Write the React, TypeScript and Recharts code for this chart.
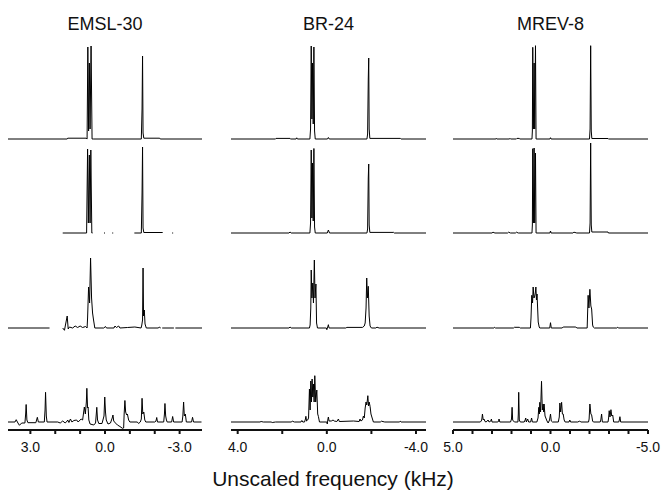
import React from "react";
import { LineChart, Line, XAxis, YAxis } from "recharts";

type Pt = [number, number | null];

const titles = ["EMSL-30", "BR-24", "MREV-8"];
const axisTitle = "Unscaled frequency (kHz)";

// frequency range (kHz) shown in each column, left edge first
const emslDomain: [number, number] = [-3.9, 3.9];
const brDomain: [number, number] = [-4.45, 4.3];
const mrevDomain: [number, number] = [-5, 5];

const emslTicks = [3, 2, 1, 0, -1, -2, -3];
const emslLabels = [3, 0, -3];
const brTicks = [4, 2, 0, -2, -4];
const brLabels = [4, 0, -4];
const mrevTicks = [5, 4, 3, 2, 1, 0, -1, -2, -3, -4, -5];
const mrevLabels = [5, 0, -5];

// spectra: [frequency kHz, intensity]; rows top to bottom
const emsl1: Pt[] = [
  [3.9, 0], [1.52, 0], [1.5, 0.8], [0.76, 0.8], [0.72, 0], [0.69, 92], [0.66, 8], [0.63, 76],
  [0.6, 10], [0.56, 93], [0.52, 0], [0.45, 0], [-1.46, 0], [-1.49, 30], [-1.51, 83], [-1.53, 6],
  [-1.56, 0.8], [-2.2, 0.8], [-2.22, 0], [-3.9, 0],
];
const emsl2: Pt[] = [
  [1.7, 0], [0.74, 0], [0.7, 84], [0.67, 10], [0.63, 78], [0.6, 10], [0.57, 83], [0.53, 0], [0.5, 0],
  [0.2, null], [0.04, 0], [0.0, 0], [-0.15, null], [-0.29, 0], [-0.33, 0], [-0.8, null],
  [-1.18, 0], [-1.46, 0], [-1.49, 40], [-1.51, 86], [-1.53, 5], [-1.56, 0.5], [-2.32, 0.5],
  [-2.5, null], [-2.7, 0], [-2.74, 0],
];
const emsl3: Pt[] = [
  [3.9, 0], [2.23, 0], [2.0, null], [1.7, 0], [1.63, -2.3], [1.59, 3], [1.52, 12], [1.48, -1],
  [1.43, 1], [1.3, 0], [1.2, 2], [1.1, 0.5], [1.0, 2], [0.9, 0.5], [0.78, 1.5], [0.72, 0],
  [0.7, 10], [0.66, 41], [0.62, 25], [0.58, 70], [0.54, 30], [0.5, 15], [0.46, 8], [0.41, 0],
  [0.05, 0], [-0.02, 1.5], [-0.06, 0], [-0.36, 0], [-0.4, 2], [-0.46, 0.5], [-0.55, 2], [-0.6, 0],
  [-0.9, 0.5], [-1.2, 1], [-1.45, 0], [-1.48, 3], [-1.51, 8], [-1.53, 60], [-1.55, 12], [-1.58, 18],
  [-1.61, 4], [-1.66, 0], [-2.15, 0], [-2.18, 1], [-2.24, 0], [-2.27, null], [-2.3, 0], [-2.77, 0],
  [-2.8, null], [-2.83, 0], [-3.9, 0],
];
const emsl4: Pt[] = [
  [3.9, 0], [3.62, 0], [3.57, 2.3], [3.5, -1], [3.44, -3.3], [3.35, -1], [3.22, -1], [3.19, 8],
  [3.17, 17.5], [3.14, 2], [3.1, -0.7], [2.78, -0.7], [2.72, 4.7], [2.68, 0], [2.44, 0], [2.41, 12],
  [2.39, 29.7], [2.36, 6], [2.33, 0], [1.9, 0], [1.8, -1], [1.7, 1], [1.6, -1], [1.52, 1], [1.5, 2],
  [1.45, -0.5], [1.39, 3], [1.33, 0], [1.25, 1.5], [1.14, 2], [1.08, 0], [0.96, 3], [0.9, 2],
  [0.83, 15], [0.79, 8], [0.75, 20], [0.73, 33.7], [0.7, 14], [0.68, 15], [0.65, 2], [0.6, -2],
  [0.45, -3], [0.38, -1], [0.35, 8], [0.33, 14.7], [0.3, 2], [0.25, -1.5], [0.12, -1.5], [0.04, 6],
  [0.01, 25], [-0.02, 10], [-0.05, 2], [-0.12, -2], [-0.22, -1], [-0.29, 4], [-0.32, 7], [-0.35, 1],
  [-0.42, -1], [-0.5, -3], [-0.6, -4.5], [-0.7, -6.3], [-0.75, -6], [-0.77, 8], [-0.8, 21.5],
  [-0.83, 10], [-0.87, 7], [-0.9, 8], [-0.95, 2], [-1.0, 0], [-1.3, 0], [-1.35, -1.5], [-1.42, 0],
  [-1.46, 3], [-1.49, 23.7], [-1.52, 8], [-1.56, 10], [-1.6, 2], [-1.64, 0], [-2.0, 0], [-2.05, 1],
  [-2.08, 4.5], [-2.11, 0], [-2.36, 0], [-2.39, 8], [-2.41, 18.5], [-2.44, 6], [-2.47, 2], [-2.5, 0],
  [-2.68, 0], [-2.72, 5.5], [-2.76, 0], [-3.1, 0], [-3.13, 6], [-3.16, 20], [-3.19, 6], [-3.23, 8],
  [-3.27, 0], [-3.48, 0], [-3.52, 4.7], [-3.56, 0], [-3.88, 0],
];

const br1: Pt[] = [
  [4.3, 0], [2.3, 0], [2.28, 0.6], [1.65, 0.6], [1.62, 0], [1.38, 0], [1.35, 1.2], [1.32, 0],
  [0.76, 0], [0.73, 10], [0.7, 93], [0.67, 20], [0.64, 76], [0.61, 15], [0.58, 92], [0.55, 8],
  [0.52, 0], [-0.03, 0], [-0.07, 1.5], [-0.11, 0], [-1.8, 0], [-1.83, 5], [-1.86, 60], [-1.88, 81],
  [-1.9, 10], [-1.93, 0.6], [-3.3, 0.6], [-3.33, 0], [-4.45, 0],
];
const br2: Pt[] = [
  [4.3, 0], [1.7, 0], [1.65, 1], [1.6, 0], [0.76, 0], [0.73, 10], [0.7, 83], [0.67, 15], [0.64, 70],
  [0.61, 12], [0.58, 84.5], [0.55, 6], [0.52, 0], [-0.02, 0], [-0.07, 3], [-0.12, 0], [-1.8, 0],
  [-1.83, 4], [-1.86, 55], [-1.88, 69], [-1.9, 8], [-1.93, 0.6], [-3.0, 0.6], [-3.03, 0], [-4.45, 0],
];
const br3: Pt[] = [
  [4.3, 0], [1.7, 0], [1.65, 1], [1.6, 0], [0.78, 0], [0.75, 3], [0.72, 20], [0.7, 58], [0.67, 30],
  [0.63, 45], [0.6, 25], [0.56, 68], [0.53, 30], [0.49, 44], [0.46, 5], [0.42, 0], [0.02, 0],
  [0.0, -1.7], [-0.04, 1], [-0.07, 3.3], [-0.1, 0], [-0.85, 0], [-0.9, 0.6], [-1.6, 0.6], [-1.68, 2],
  [-1.72, 5], [-1.76, 20], [-1.79, 50], [-1.82, 30], [-1.86, 41.7], [-1.9, 12], [-1.94, 2],
  [-2.0, 0], [-2.2, 0], [-2.25, 0.8], [-2.35, 0], [-4.45, 0],
];
const br4: Pt[] = [
  [4.3, 0], [3.0, 0], [2.95, 0.5], [2.85, 0], [2.5, 0], [2.45, -0.5], [2.3, 0], [1.6, 0], [1.55, 0.8],
  [1.45, 0], [1.16, 0], [1.12, 1.5], [1.08, 0], [1.0, 0], [0.96, 3], [0.94, 5.7], [0.91, 1],
  [0.86, 2], [0.82, 4], [0.78, 33], [0.75, 12], [0.72, 41], [0.69, 20], [0.66, 43], [0.63, 25],
  [0.6, 38], [0.57, 20], [0.54, 46.3], [0.5, 20], [0.45, 32], [0.41, 8], [0.38, 5.7], [0.33, 0],
  [0.0, 0], [-0.02, -2], [-0.05, 3], [-0.07, 5], [-0.1, 1], [-0.2, 1], [-0.28, 2], [-0.33, 1],
  [-0.45, 0.5], [-0.52, 3], [-0.56, 0.5], [-1.2, 1], [-1.45, 0.5], [-1.49, 3], [-1.53, 1], [-1.6, 2],
  [-1.64, 6], [-1.68, 4], [-1.72, 14], [-1.76, 20], [-1.79, 17], [-1.82, 22], [-1.84, 26.3],
  [-1.87, 16], [-1.9, 20], [-1.94, 15.7], [-1.98, 8], [-2.02, 5], [-2.09, 0], [-2.4, 0], [-2.45, 0.8],
  [-2.6, 0], [-3.25, 0], [-3.29, 0.8], [-3.33, 0], [-4.45, 0],
];

const mrev1: Pt[] = [
  [5, 0], [2.8, 0], [2.78, 0.6], [2.76, 0], [2.1, 0], [2.08, 0.6], [2.05, 0], [1.75, 0], [1.72, 0.6],
  [1.6, 0.6], [1.58, 0], [0.95, 0], [0.93, 8], [0.91, 91.7], [0.88, 10], [0.84, 76], [0.81, 10],
  [0.77, 93.3], [0.74, 0], [0.7, 0], [0.03, 0], [0.0, 1.3], [-0.03, 0], [-2.0, 0], [-2.03, 10],
  [-2.06, 93.3], [-2.09, 8], [-2.12, 0.5], [-2.95, 0.5], [-2.97, 0], [-5, 0],
];
const mrev2: Pt[] = [
  [5, 0], [3.0, 0], [2.95, 0.8], [2.85, 0], [2.2, 0], [2.15, 0.8], [2.05, 0], [1.8, 0], [1.75, 0.8],
  [1.65, 0], [0.95, 0], [0.93, 8], [0.91, 84.3], [0.88, 10], [0.84, 85], [0.81, 10], [0.77, 80],
  [0.74, 0], [0.7, 0], [0.03, 0], [0.0, 2], [-0.03, 0], [-1.15, 0], [-1.2, 0.8], [-1.35, 0],
  [-2.0, 0], [-2.03, 10], [-2.06, 90], [-2.09, 8], [-2.12, 1], [-2.95, 1], [-2.97, 0], [-5, 0],
];
const mrev3: Pt[] = [
  [5, 0], [2.9, 0], [2.86, 0.7], [2.82, 0], [1.9, 0], [1.85, 0.7], [1.6, 0.7], [1.55, 0], [1.03, 0],
  [1.0, 10], [0.96, 32.7], [0.92, 25], [0.89, 41], [0.85, 30], [0.82, 31], [0.78, 35], [0.75, 41],
  [0.72, 28], [0.69, 34], [0.63, 6], [0.58, 1], [0.55, 0], [0.04, 0], [0.0, 5.3], [-0.04, 0],
  [-0.6, 0], [-0.65, 1], [-1.3, 1], [-1.35, 0], [-1.88, 0], [-1.93, 32.7], [-1.97, 20],
  [-2.02, 38.7], [-2.07, 22], [-2.11, 19], [-2.16, 3], [-2.19, 1], [-2.25, 0], [-3.4, 0],
  [-3.45, 0.7], [-3.5, 0], [-5, 0],
];
const mrev4: Pt[] = [
  [5, 0], [3.6, 0], [3.55, 1], [3.52, 3], [3.49, 8], [3.45, 2], [3.41, 3], [3.36, 0.5], [3.3, 0],
  [3.25, 1], [3.2, 2], [3.15, 0], [3.06, 1], [3.03, 3], [3.0, 0], [2.7, 0], [2.66, 1], [2.64, 3],
  [2.6, 0], [2.05, 0], [2.0, 3], [1.97, 14.7], [1.94, 2], [1.9, 1], [1.85, 0], [1.67, 0], [1.65, 8],
  [1.63, 29.7], [1.6, 2], [1.55, 0], [1.35, 0], [1.3, 2], [1.27, 4], [1.24, 0], [1.17, 3], [1.12, 0],
  [1.02, 0], [0.97, 4], [0.93, 0], [0.7, 0], [0.64, 4], [0.6, 14.7], [0.57, 8], [0.55, 19.7],
  [0.51, 10], [0.46, 40.7], [0.42, 12], [0.38, 18], [0.35, 10], [0.33, 18], [0.28, 6], [0.24, 4],
  [0.18, 1], [0.12, -1], [0.05, 2], [0.0, 8], [-0.04, 1], [-0.1, 0], [-0.4, 0], [-0.45, 5],
  [-0.48, 19], [-0.52, 10], [-0.57, 19.7], [-0.61, 8], [-0.65, 8], [-0.7, 2], [-0.75, 0], [-0.95, 0],
  [-0.99, 2], [-1.03, 0], [-1.4, 0], [-1.5, 1], [-1.55, 0], [-1.95, 0], [-1.98, 3], [-2.02, 18],
  [-2.07, 8], [-2.11, 7], [-2.16, 1], [-2.2, 0], [-2.55, 0], [-2.58, 2], [-2.62, 8], [-2.66, 0],
  [-2.95, 0], [-2.98, 4], [-3.01, 11.3], [-3.05, 5], [-3.1, 12.3], [-3.14, 6], [-3.19, 7],
  [-3.24, 0], [-3.5, 0], [-3.53, 2], [-3.56, 5.3], [-3.6, 0], [-5, 0],
];

const FONT = "'Liberation Sans', Arial, Helvetica, sans-serif";
const PAD = 24;
const rowTops = [45, 139, 234, 328];

const columns = [
  { left: 8, width: 194, domain: emslDomain, ticks: emslTicks, labels: emslLabels, rows: [emsl1, emsl2, emsl3, emsl4] },
  { left: 231, width: 195, domain: brDomain, ticks: brTicks, labels: brLabels, rows: [br1, br2, br3, br4] },
  { left: 453, width: 195, domain: mrevDomain, ticks: mrevTicks, labels: mrevLabels, rows: [mrev1, mrev2, mrev3, mrev4] },
];

function Panel({ pts, left, top, width, domain, ticks, labels, axis }: any) {
  const data = pts.map(([f, y]: Pt) => ({ f, y }));
  const height = axis ? 140 : 100;
  return (
    <div style={{ position: "absolute", left: left - PAD, top }}>
      <LineChart
        width={width + 2 * PAD}
        height={height}
        data={data}
        margin={{ top: 0, right: PAD, left: PAD, bottom: 0 }}
      >
        <XAxis
          dataKey="f"
          type="number"
          domain={[domain[0], domain[1]]}
          reversed
          allowDataOverflow
          hide={!axis}
          height={axis ? 38 : 0}
          ticks={ticks}
          interval={0}
          tickSize={4}
          tickMargin={8}
          axisLine={{ stroke: "#111", strokeWidth: 2 }}
          tickLine={{ stroke: "#111", strokeWidth: 2 }}
          tick={{ fontSize: 14, fill: "#111", fontFamily: FONT }}
          tickFormatter={(v: number) => (labels.includes(v) ? v.toFixed(1) : "")}
        />
        <YAxis hide type="number" domain={axis ? [-8, 94] : [-6, 94]} allowDataOverflow />
        <Line
          type="linear"
          dataKey="y"
          stroke="#000"
          strokeWidth={1}
          dot={false}
          activeDot={false}
          connectNulls={false}
          isAnimationActive={false}
        />
      </LineChart>
    </div>
  );
}

export default function App() {
  return (
    <div style={{ position: "absolute", left: 0, top: 0, width: 666, height: 496, background: "#fff", fontFamily: FONT }}>
      {columns.map((c, ci) =>
        c.rows.map((pts, ri) => (
          <Panel
            key={`${ci}-${ri}`}
            pts={pts}
            left={c.left}
            top={rowTops[ri]}
            width={c.width}
            domain={c.domain}
            ticks={c.ticks}
            labels={c.labels}
            axis={ri === 3}
          />
        ))
      )}
      <svg width={666} height={496} style={{ position: "absolute", left: 0, top: 0, pointerEvents: "none" }}>
        {columns.map((c, ci) => (
          <text key={ci} x={c.left + c.width / 2} y={30} textAnchor="middle" fontSize={18} fill="#111" fontFamily={FONT}>
            {titles[ci]}
          </text>
        ))}
        <text x={333} y={486} textAnchor="middle" fontSize={21} fill="#111" fontFamily={FONT}>
          {axisTitle}
        </text>
      </svg>
    </div>
  );
}
